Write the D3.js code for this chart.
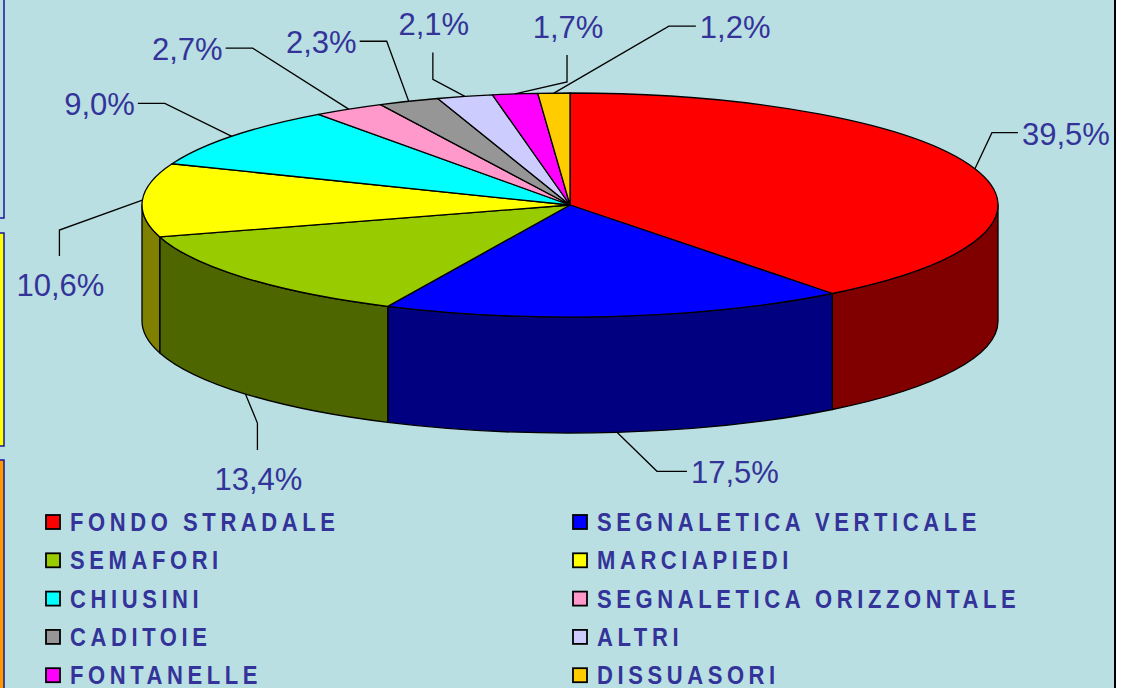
<!DOCTYPE html>
<html>
<head>
<meta charset="utf-8">
<script src="https://cdn.jsdelivr.net/npm/d3@7"></script>
<style>
  html, body { margin: 0; padding: 0; background: #ffffff; }
  svg { display: block; }
</style>
</head>
<body>
<div id="chart"></div>
<script>
// data
var categories = ['FONDO STRADALE', 'SEGNALETICA VERTICALE', 'SEMAFORI', 'MARCIAPIEDI', 'CHIUSINI',
  'SEGNALETICA ORIZZONTALE', 'CADITOIE', 'ALTRI', 'FONTANELLE', 'DISSUASORI'];
var values = [39.5, 17.5, 13.4, 10.6, 9.0, 2.7, 2.3, 2.1, 1.7, 1.2];
var colors = ['#FF0000', '#0000FF', '#99CC00', '#FFFF00', '#00FFFF',
  '#FF99CC', '#969696', '#CCCCFF', '#FF00FF', '#FFCC00'];

// leader line layout: first segment (dx1,dy1) from slice edge, second segment (dx2,dy2)
var leaders = [
  {dx1: 17, dy1: -36, dx2: 26, dy2: 0},
  {dx1: 40, dy1: 39, dx2: 30, dy2: 0},
  {dx1: 12, dy1: 29, dx2: 0, dy2: 27},
  {dx1: -83, dy1: 30, dx2: 0, dy2: 26},
  {dx1: -67, dy1: -33, dx2: -27, dy2: 0},
  {dx1: -96, dy1: -61, dx2: -27, dy2: 0},
  {dx1: -22, dy1: -60, dx2: -27, dy2: 0},
  {dx1: -32, dy1: -17, dx2: 0, dy2: -27},
  {dx1: 52, dy1: -12, dx2: 0, dy2: -27},
  {dx1: 115, dy1: -67, dx2: 27, dy2: 0}
];

var W = 1128, H = 688;
var cx = 570, cy = 205, rx = 428, ry = 112, depth = 116;
var bg = '#B9DFE2', textColor = '#333399';

var svg = d3.select('#chart')
  .append('svg')
  .attr('width', W)
  .attr('height', H);

svg.append('rect')
  .attr('width', 1115)
  .attr('height', H)
  .style('fill', bg);

// frame line on the right
svg.append('line')
  .attr('x1', 1115).attr('x2', 1115)
  .attr('y1', 0).attr('y2', H)
  .style('stroke', '#000000')
  .style('stroke-width', 2);

// boxes peeking in on the left
var sideBoxes = [
  {y0: -10, y1: 218, fill: bg},
  {y0: 233, y1: 446, fill: '#FFFF00'},
  {y0: 460, y1: 700, fill: '#FF9900'}
];
svg.selectAll('.side-box')
  .data(sideBoxes)
  .enter()
  .append('rect')
  .attr('class', 'side-box')
  .attr('x', -20)
  .attr('y', function(d){ return d.y0; })
  .attr('width', 24)
  .attr('height', function(d){ return d.y1 - d.y0; })
  .style('fill', function(d){ return d.fill; })
  .style('stroke', '#1A1A99')
  .style('stroke-width', 1.5);

var pie = d3.pie()
  .sort(null)
  .value(function(d){ return d; });
var arcs = pie(values);

function pt(a, dy){
  return [cx + rx * Math.sin(a), cy - ry * Math.cos(a) + (dy || 0)];
}

function topPath(d){
  var p0 = pt(d.startAngle), p1 = pt(d.endAngle);
  var large = (d.endAngle - d.startAngle) > Math.PI ? 1 : 0;
  return 'M' + cx + ',' + cy + 'L' + p0 + 'A' + rx + ',' + ry + ' 0 ' + large + ' 1 ' + p1 + 'Z';
}

function sidePath(d){
  var s0 = Math.max(d.startAngle, Math.PI / 2);
  var s1 = Math.min(d.endAngle, Math.PI * 1.5);
  if(s0 >= s1){ return null; }
  return 'M' + pt(s0) + 'A' + rx + ',' + ry + ' 0 0 1 ' + pt(s1) +
    'L' + pt(s1, depth) + 'A' + rx + ',' + ry + ' 0 0 0 ' + pt(s0, depth) + 'Z';
}

function darker(c){
  var k = d3.rgb(c);
  return d3.rgb(k.r / 2, k.g / 2, k.b / 2).toString();
}

var pieG = svg.append('g');

pieG.selectAll('.side')
  .data(arcs.filter(function(d){ return sidePath(d) != null; }))
  .enter()
  .append('path')
  .attr('class', 'side')
  .attr('d', sidePath)
  .style('fill', function(d){ return darker(colors[d.index]); })
  .style('stroke', '#000000')
  .style('stroke-width', 1.3)
  .style('stroke-linejoin', 'round');

pieG.selectAll('.top')
  .data(arcs)
  .enter()
  .append('path')
  .attr('class', 'top')
  .attr('d', topPath)
  .style('fill', function(d){ return colors[d.index]; })
  .style('stroke', '#000000')
  .style('stroke-width', 1.3)
  .style('stroke-linejoin', 'round');

// labels with leader lines
function fmt(v){ return d3.format('.1f')(v).replace('.', ',') + '%'; }

var labelG = svg.append('g');
arcs.forEach(function(d, i){
  var mid = (d.startAngle + d.endAngle) / 2;
  var front = Math.cos(mid) < 0;
  var a = pt(mid, front ? depth : 0);
  var L = leaders[i];
  var e = [a[0] + L.dx1, a[1] + L.dy1];
  var t = [e[0] + L.dx2, e[1] + L.dy2];

  labelG.append('polyline')
    .attr('points', [a, e, t].join(' '))
    .style('fill', 'none')
    .style('stroke', '#000000')
    .style('stroke-width', 1.3);

  var tx, ty, anchor;
  if(L.dy2 == 0){
    anchor = L.dx2 > 0 ? 'start' : 'end';
    tx = t[0] + (L.dx2 > 0 ? 4 : -3);
    ty = t[1] + 12;
  }else if(L.dy2 > 0){
    anchor = 'middle'; tx = t[0] + 1; ty = t[1] + 40;
  }else{
    anchor = 'middle'; tx = t[0] + 1; ty = t[1] - 17;
  }
  labelG.append('text')
    .attr('x', tx)
    .attr('y', ty)
    .attr('text-anchor', anchor)
    .style('font-family', '"Liberation Sans", Arial, sans-serif')
    .style('font-size', '31px')
    .style('fill', textColor)
    .text(fmt(values[i]));
});

// legend
var legend = svg.append('g');
var items = legend.selectAll('.legend-item')
  .data(categories)
  .enter()
  .append('g')
  .attr('class', 'legend-item')
  .attr('transform', function(d, i){
    var col = i % 2, row = Math.floor(i / 2);
    return 'translate(' + (col == 0 ? 46 : 573) + ',' + (515 + row * 38.3) + ')';
  });

items.append('rect')
  .attr('width', 14)
  .attr('height', 14)
  .style('fill', function(d, i){ return colors[i]; })
  .style('stroke', '#000000')
  .style('stroke-width', 1.8);

// Excel stretched the legend text vertically
items.append('text')
  .attr('transform', 'translate(24,16) scale(1,1.2)')
  .style('font-family', '"Liberation Sans", Arial, sans-serif')
  .style('font-size', '22px')
  .style('font-weight', 'bold')
  .style('letter-spacing', '4.6px')
  .style('fill', textColor)
  .text(function(d){ return d; });
</script>
</body>
</html>
